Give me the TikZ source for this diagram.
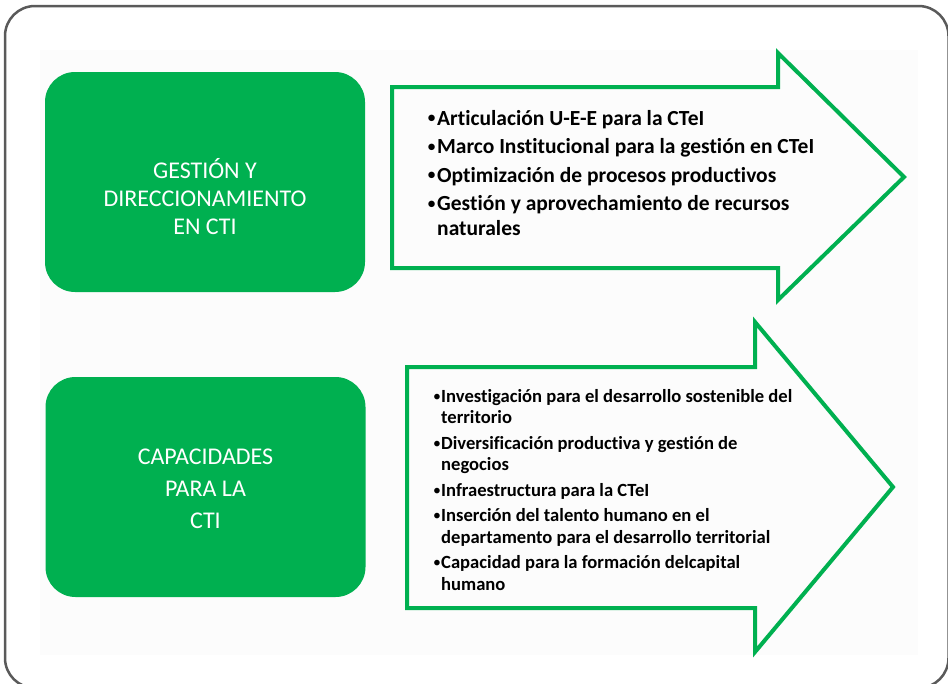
\documentclass[tikz,border=0pt]{standalone}
\usepackage{fontspec}
\setmainfont{Carlito}[Ligatures={NoCommon}]
\definecolor{grn}{HTML}{00B050}
\definecolor{frm}{HTML}{5A5A5A}
\newcommand{\blt}[1]{\makebox[#1][l]{\normalfont\raisebox{0.05em}{\scalebox{0.85}{•}}}}
\tikzset{
  greenbox/.style={fill=grn, draw=none, rounded corners=30pt, minimum width=320pt, minimum height=220pt, inner sep=0pt},
  boxtext/.style={text=white, align=center, font=\fontsize{24}{28}\selectfont, inner sep=0pt},
  arrowline/.style={draw=grn, line width=4pt, miter limit=10},
  listtext/.style={inner sep=0pt, anchor=base west}
}
\begin{document}
\begin{tikzpicture}[x=1pt,y=-1pt]
\useasboundingbox (0,0) rectangle (948,683);
\clip (0,0) rectangle (948,683);
\fill[white] (0,0) rectangle (948,683);
\fill[black!1.2] (40,50) rectangle (918,655);
\draw[frm, line width=2.5pt, rounded corners=30pt] (5,6) rectangle (948.5,688);

% green boxes
\node[greenbox] (b1) at (205,182) {};
\node[greenbox] (b2) at (205.5,487) {};
\node[boxtext] (t1) at (205,197) {GESTIÓN Y\\DIRECCIONAMIENTO\\EN CTI};
\node[boxtext, font=\fontsize{24}{32}\selectfont] (t2) at (205.5,489) {CAPACIDADES\\PARA LA\\CTI};

% arrows
\draw[arrowline] (392,87) -- (778,87) -- (778,53) -- (904,177) -- (778,300) -- (778,268) -- (392,268) -- cycle;
\draw[arrowline] (407,367) -- (755,367) -- (755,322) -- (893,487) -- (755,652) -- (755,608) -- (407,608) -- cycle;

% lists
\node[listtext] (l1) at (427,125) {\fontsize{21.5}{25}\selectfont\bfseries
\begin{tabular}[t]{@{}l@{}l@{}}
\blt{10pt}&Articulación U-E-E para la CTeI\\[3.5pt]
\blt{10pt}&Marco Institucional para la gestión en CTeI\\[3.5pt]
\blt{10pt}&Optimización de procesos productivos\\[3.5pt]
\blt{10pt}&Gestión y aprovechamiento de recursos\\
&naturales
\end{tabular}};

\node[listtext] (l2) at (433,402) {\fontsize{18.6}{21.5}\selectfont\bfseries
\begin{tabular}[t]{@{}l@{}l@{}}
\blt{8pt}&Investigación para el desarrollo sostenible del\\
&territorio\\[4pt]
\blt{8pt}&Diversificación productiva y gestión de\\
&negocios\\[4pt]
\blt{8pt}&Infraestructura para la CTeI\\[4pt]
\blt{8pt}&Inserción del talento humano en el\\
&departamento para el desarrollo territorial\\[4pt]
\blt{8pt}&Capacidad para la formación delcapital\\
&humano
\end{tabular}};
\end{tikzpicture}
\end{document}
